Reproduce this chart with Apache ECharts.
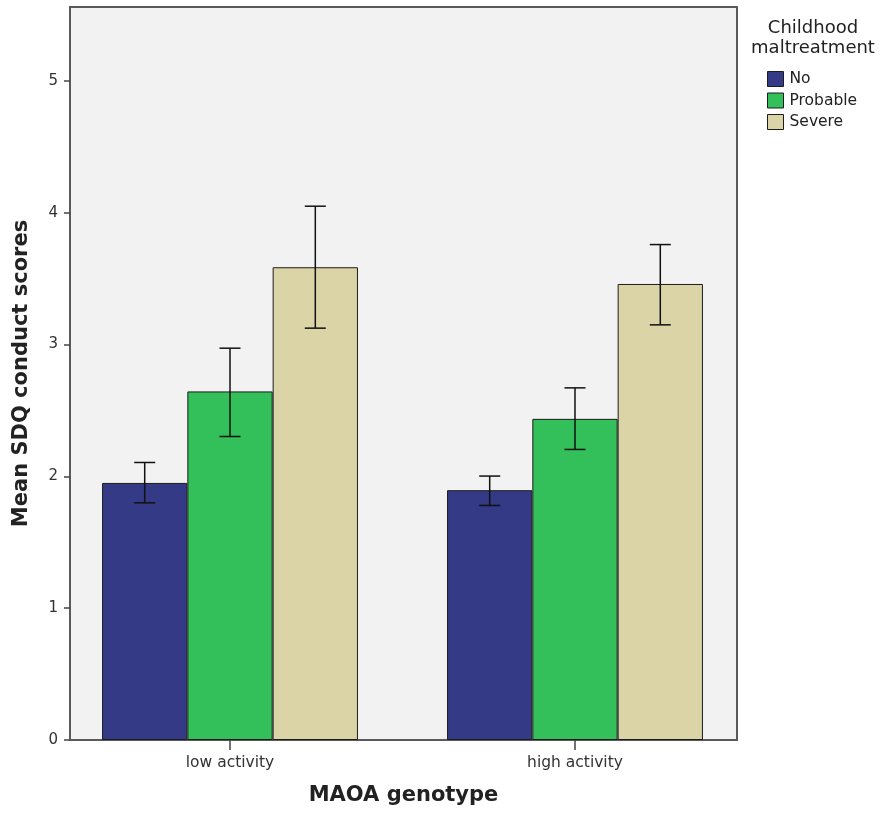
<!DOCTYPE html>
<html>
<head>
<meta charset="utf-8">
<script src="https://cdn.jsdelivr.net/npm/echarts@6/dist/echarts.min.js"></script>
<style>
  html, body { margin: 0; padding: 0; background: #ffffff; }
  #chart { width: 887px; height: 816px; }
</style>
</head>
<body>
<div id="chart"></div>
<script>
// Genotype groups on the x axis (placed at 0 and 1 on a value axis)
const genotypes = ['low activity', 'high activity'];
const groupPositions = [0, 1];

// Childhood maltreatment levels
const maltreatment = ['No', 'Probable', 'Severe'];
const colors = ['#353a86', '#33bf59', '#dad4a6'];

// Mean SDQ conduct scores per maltreatment level, [low activity, high activity]
const meanNo = [1.95, 1.895];
const meanProbable = [2.644, 2.436];
const meanSevere = [3.586, 3.459];

// Error bar ends (lower, upper) per maltreatment level, [low activity, high activity]
const lowerNo = [1.799, 1.779];
const upperNo = [2.105, 2.002];
const lowerProbable = [2.302, 2.204];
const upperProbable = [2.972, 2.671];
const lowerSevere = [3.124, 3.149];
const upperSevere = [4.049, 3.758];

// Y axis ticks
const yTicks = [0, 1, 2, 3, 4, 5];

const means = [meanNo, meanProbable, meanSevere];
const lowers = [lowerNo, lowerProbable, lowerSevere];
const uppers = [upperNo, upperProbable, upperSevere];

const BAR_W = 85.3;
const CAP_HALF = 10.5;

const chart = echarts.init(document.getElementById('chart'), null, { renderer: 'canvas' });

const barSeries = maltreatment.map((name, s) => ({
  name: name,
  type: 'bar',
  barWidth: BAR_W,
  barGap: '0%',
  itemStyle: { color: colors[s], borderColor: '#1c1c1c', borderWidth: 1 },
  data: groupPositions.map((x, g) => [x, means[s][g]]),
  z: 2
}));

// Error bars drawn on the same scales; each level is shifted by one bar width
const errData = [];
maltreatment.forEach((name, s) => {
  groupPositions.forEach((x, g) => {
    errData.push([x, lowers[s][g], uppers[s][g], s - 1]);
  });
});

const errorSeries = {
  type: 'custom',
  z: 5,
  data: errData,
  renderItem: function (params, api) {
    const x = api.value(0);
    const lo = api.coord([x, api.value(1)]);
    const hi = api.coord([x, api.value(2)]);
    const cx = lo[0] + api.value(3) * BAR_W;
    const style = { stroke: '#111', lineWidth: 1.5 };
    return {
      type: 'group',
      children: [
        { type: 'line', shape: { x1: cx, y1: hi[1], x2: cx, y2: lo[1] }, style: style },
        { type: 'line', shape: { x1: cx - CAP_HALF, y1: hi[1], x2: cx + CAP_HALF, y2: hi[1] }, style: style },
        { type: 'line', shape: { x1: cx - CAP_HALF, y1: lo[1], x2: cx + CAP_HALF, y2: lo[1] }, style: style }
      ]
    };
  }
};

const option = {
  backgroundColor: '#ffffff',
  animation: false,
  textStyle: { fontFamily: 'DejaVu Sans' },
  title: {
    text: 'Childhood\nmaltreatment',
    left: 813,
    top: 18,
    textAlign: 'center',
    padding: 0,
    textStyle: { fontSize: 18, fontWeight: 'normal', color: '#222', lineHeight: 20, fontFamily: 'DejaVu Sans' }
  },
  legend: {
    data: maltreatment,
    orient: 'vertical',
    left: 767,
    top: 71,
    padding: 0,
    itemWidth: 16,
    itemHeight: 15,
    itemGap: 5.5,
    icon: 'rect',
    itemStyle: { borderColor: '#1c1c1c', borderWidth: 1 },
    textStyle: { fontSize: 15.5, color: '#222', padding: [0, 0, 0, 1] }
  },
  grid: {
    left: 70, right: 150, top: 7, bottom: 76,
    show: true,
    backgroundColor: '#f2f2f2',
    borderColor: '#5a5a5a',
    borderWidth: 2
  },
  xAxis: {
    type: 'value',
    min: -0.4638,
    max: 1.4696,
    name: 'MAOA genotype',
    nameLocation: 'middle',
    nameGap: 45,
    nameTextStyle: { fontSize: 21, fontWeight: 'bold', color: '#222' },
    splitLine: { show: false },
    axisLine: { show: true, onZero: false, lineStyle: { color: '#5a5a5a', width: 2 } },
    axisTick: { show: true, customValues: groupPositions, length: 10, lineStyle: { color: '#444', width: 1.5 } },
    axisLabel: {
      customValues: groupPositions,
      margin: 15,
      fontSize: 15.5,
      color: '#333',
      formatter: v => genotypes[groupPositions.indexOf(v)]
    }
  },
  yAxis: {
    type: 'value',
    min: 0,
    max: 5.56,
    name: 'Mean SDQ conduct scores',
    nameLocation: 'middle',
    nameGap: 38,
    nameTextStyle: { fontSize: 21, fontWeight: 'bold', color: '#222' },
    splitLine: { show: false },
    axisLine: { show: true, onZero: false, lineStyle: { color: '#5a5a5a', width: 2 } },
    axisTick: { show: true, customValues: yTicks, length: 6, lineStyle: { color: '#444', width: 1.5 } },
    axisLabel: { customValues: yTicks, margin: 12, fontSize: 15, color: '#333' }
  },
  series: barSeries.concat([errorSeries])
};

chart.setOption(option);
</script>
</body>
</html>
